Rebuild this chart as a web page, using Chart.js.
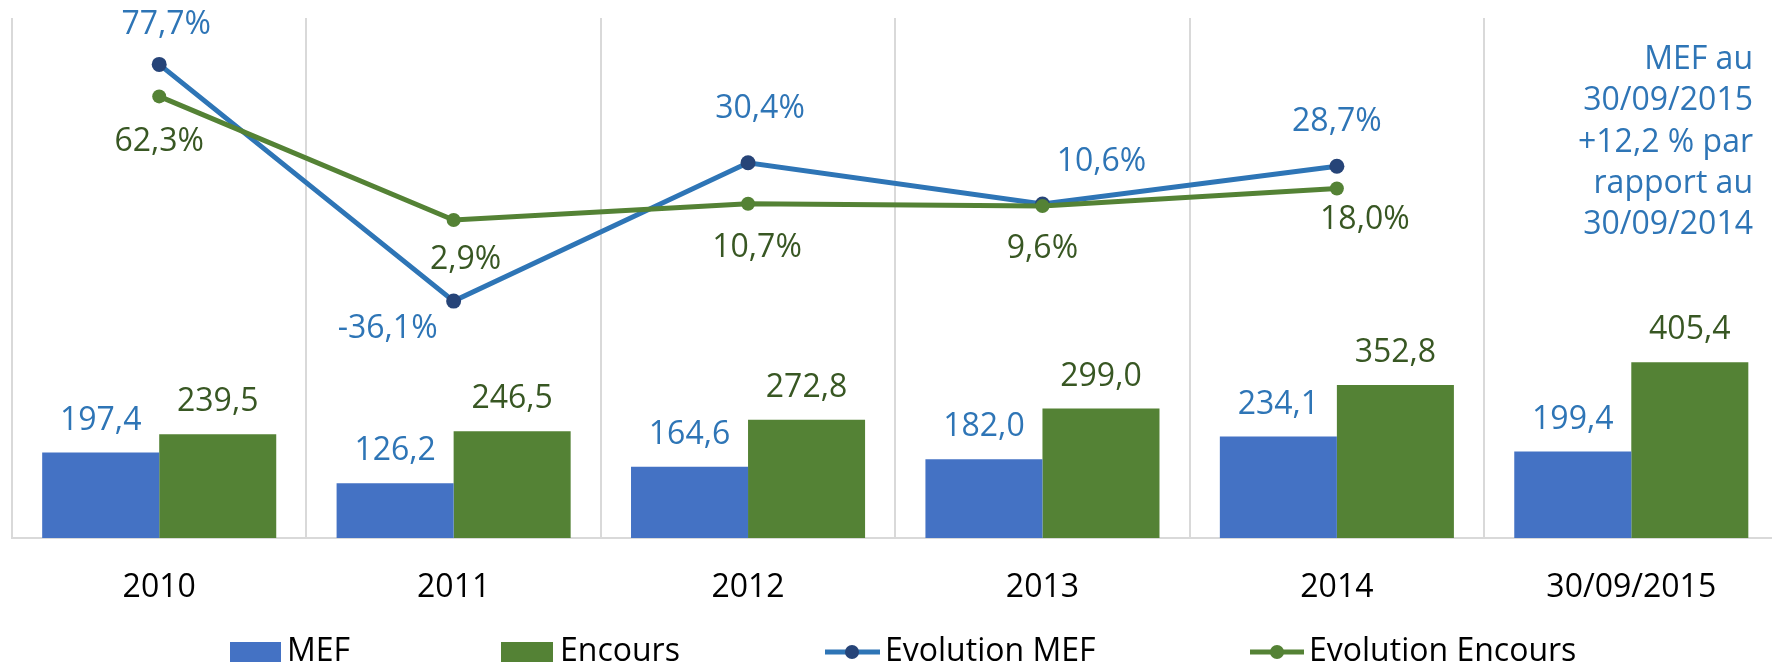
<!DOCTYPE html>
<html>
<head>
<meta charset="utf-8">
<script src="https://cdn.jsdelivr.net/npm/chart.js@4.4.0/dist/chart.umd.min.js"></script>
<style>
html, body { margin: 0; padding: 0; background: #fff; overflow: hidden; }
#wrap { width: 1786px; height: 665px; }
</style>
</head>
<body>
<div id="wrap"><canvas id="myChart" width="1786" height="665"></canvas></div>
<script>
const annees = ['2010', '2011', '2012', '2013', '2014', '30/09/2015'];
const mef = [197.4, 126.2, 164.6, 182.0, 234.1, 199.4];
const encours = [239.5, 246.5, 272.8, 299.0, 352.8, 405.4];
const evolMef = [77.7, -36.1, 30.4, 10.6, 28.7, null];
const evolEncours = [62.3, 2.9, 10.7, 9.6, 18.0, null];
const note = ['MEF au', '30/09/2015', '+12,2 % par', 'rapport au', '30/09/2014'];

// decalage des etiquettes des courbes par rapport au point (dx, dy)
const decalMef = [[7, -39], [-66, 28], [12, -54], [59, -42], [0, -44]];
const decalEncours = [[0, 45], [12, 40], [9, 44], [0, 43], [28, 31]];

const BLEU = '#4472C4', VERT = '#548235', BLEU_LIGNE = '#2E75B6', MARINE = '#264478';
const TXT_BLEU = '#2E75B6', TXT_VERT = '#385723';

function virgule(v) {
    return v.toFixed(1).replace('.', ',');
}

const etiquettes = {
    id: 'etiquettes',
    afterDatasetsDraw(chart) {
        const ctx = chart.ctx;
        ctx.save();
        ctx.font = '32px "Open Sans"';
        ctx.textAlign = 'center';
        ctx.textBaseline = 'middle';
        chart.data.datasets.forEach((ds, i) => {
            const meta = chart.getDatasetMeta(i);
            meta.data.forEach((el, j) => {
                const v = ds.data[j];
                if (v === null || v === undefined) return;
                let dx = 0, dy = -32;
                if (ds.decal) { dx = ds.decal[j][0]; dy = ds.decal[j][1]; }
                ctx.fillStyle = ds.couleurTexte;
                ctx.fillText(virgule(v) + (ds.type === 'line' ? '%' : ''), el.x + dx, el.y + dy);
            });
        });
        // note en haut a droite
        ctx.textAlign = 'right';
        ctx.fillStyle = TXT_BLEU;
        note.forEach((l, k) => ctx.fillText(l, 1753, 60 + k * 41.3));
        ctx.restore();
    },
    afterDraw(chart) {
        // legende dessinee a la main
        const ctx = chart.ctx;
        const y = 652;
        ctx.save();
        ctx.font = '32px "Open Sans"';
        ctx.textBaseline = 'middle';
        ctx.textAlign = 'left';
        ctx.fillStyle = BLEU;
        ctx.fillRect(230, 642, 51, 20);
        ctx.fillStyle = VERT;
        ctx.fillRect(501, 642, 52, 20);
        ctx.lineWidth = 5;
        ctx.strokeStyle = BLEU_LIGNE;
        ctx.beginPath(); ctx.moveTo(825, y); ctx.lineTo(880, y); ctx.stroke();
        ctx.fillStyle = MARINE;
        ctx.beginPath(); ctx.arc(852, y, 7, 0, Math.PI * 2); ctx.fill();
        ctx.strokeStyle = VERT;
        ctx.beginPath(); ctx.moveTo(1250, y); ctx.lineTo(1304, y); ctx.stroke();
        ctx.fillStyle = VERT;
        ctx.beginPath(); ctx.arc(1277, y, 7, 0, Math.PI * 2); ctx.fill();
        ctx.fillStyle = '#000';
        ctx.fillText('MEF', 287, y);
        ctx.fillText('Encours', 560, y);
        ctx.fillText('Evolution MEF', 885, y);
        ctx.fillText('Evolution Encours', 1309, y);
        ctx.restore();
    }
};

Chart.defaults.font.family = '"Open Sans"';
Chart.defaults.font.size = 32;

const ctx = document.getElementById('myChart');

const data = {
    labels: annees,
    datasets: [
        {
            type: 'line', label: 'Evolution Encours', data: evolEncours, yAxisID: 'y1', order: 0,
            borderColor: VERT, backgroundColor: VERT, borderWidth: 5,
            pointRadius: 7, pointBackgroundColor: VERT, pointBorderColor: VERT, pointBorderWidth: 0,
            couleurTexte: TXT_VERT, decal: decalEncours
        },
        {
            type: 'line', label: 'Evolution MEF', data: evolMef, yAxisID: 'y1', order: 1,
            borderColor: BLEU_LIGNE, backgroundColor: MARINE, borderWidth: 5,
            pointRadius: 7.5, pointBackgroundColor: MARINE, pointBorderColor: MARINE, pointBorderWidth: 0,
            couleurTexte: TXT_BLEU, decal: decalMef
        },
        {
            type: 'bar', label: 'MEF', data: mef, yAxisID: 'y', order: 2,
            backgroundColor: BLEU, couleurTexte: TXT_BLEU,
            categoryPercentage: 0.795, barPercentage: 1.0
        },
        {
            type: 'bar', label: 'Encours', data: encours, yAxisID: 'y', order: 3,
            backgroundColor: VERT, couleurTexte: TXT_VERT,
            categoryPercentage: 0.795, barPercentage: 1.0
        }
    ]
};

const config = {
    type: 'bar',
    data,
    options: {
        responsive: false,
        animation: false,
        layout: { padding: { left: 12, top: 18, right: 0, bottom: 0 } },
        plugins: { legend: { display: false }, tooltip: { enabled: false } },
        scales: {
            x: {
                grid: { color: '#D9D9D9', lineWidth: 2, drawTicks: false, offset: true },
                border: { color: '#D9D9D9', width: 2 },
                ticks: { color: '#000', padding: 31, maxRotation: 0, autoSkip: false },
                afterFit(s) { s.height = 127; }
            },
            y: { display: false, min: 0, max: 1200 },
            y1: { display: false, min: -150, max: 100 }
        }
    },
    plugins: [etiquettes]
};

const myChart = new Chart(ctx, config);
</script>
</body>
</html>
